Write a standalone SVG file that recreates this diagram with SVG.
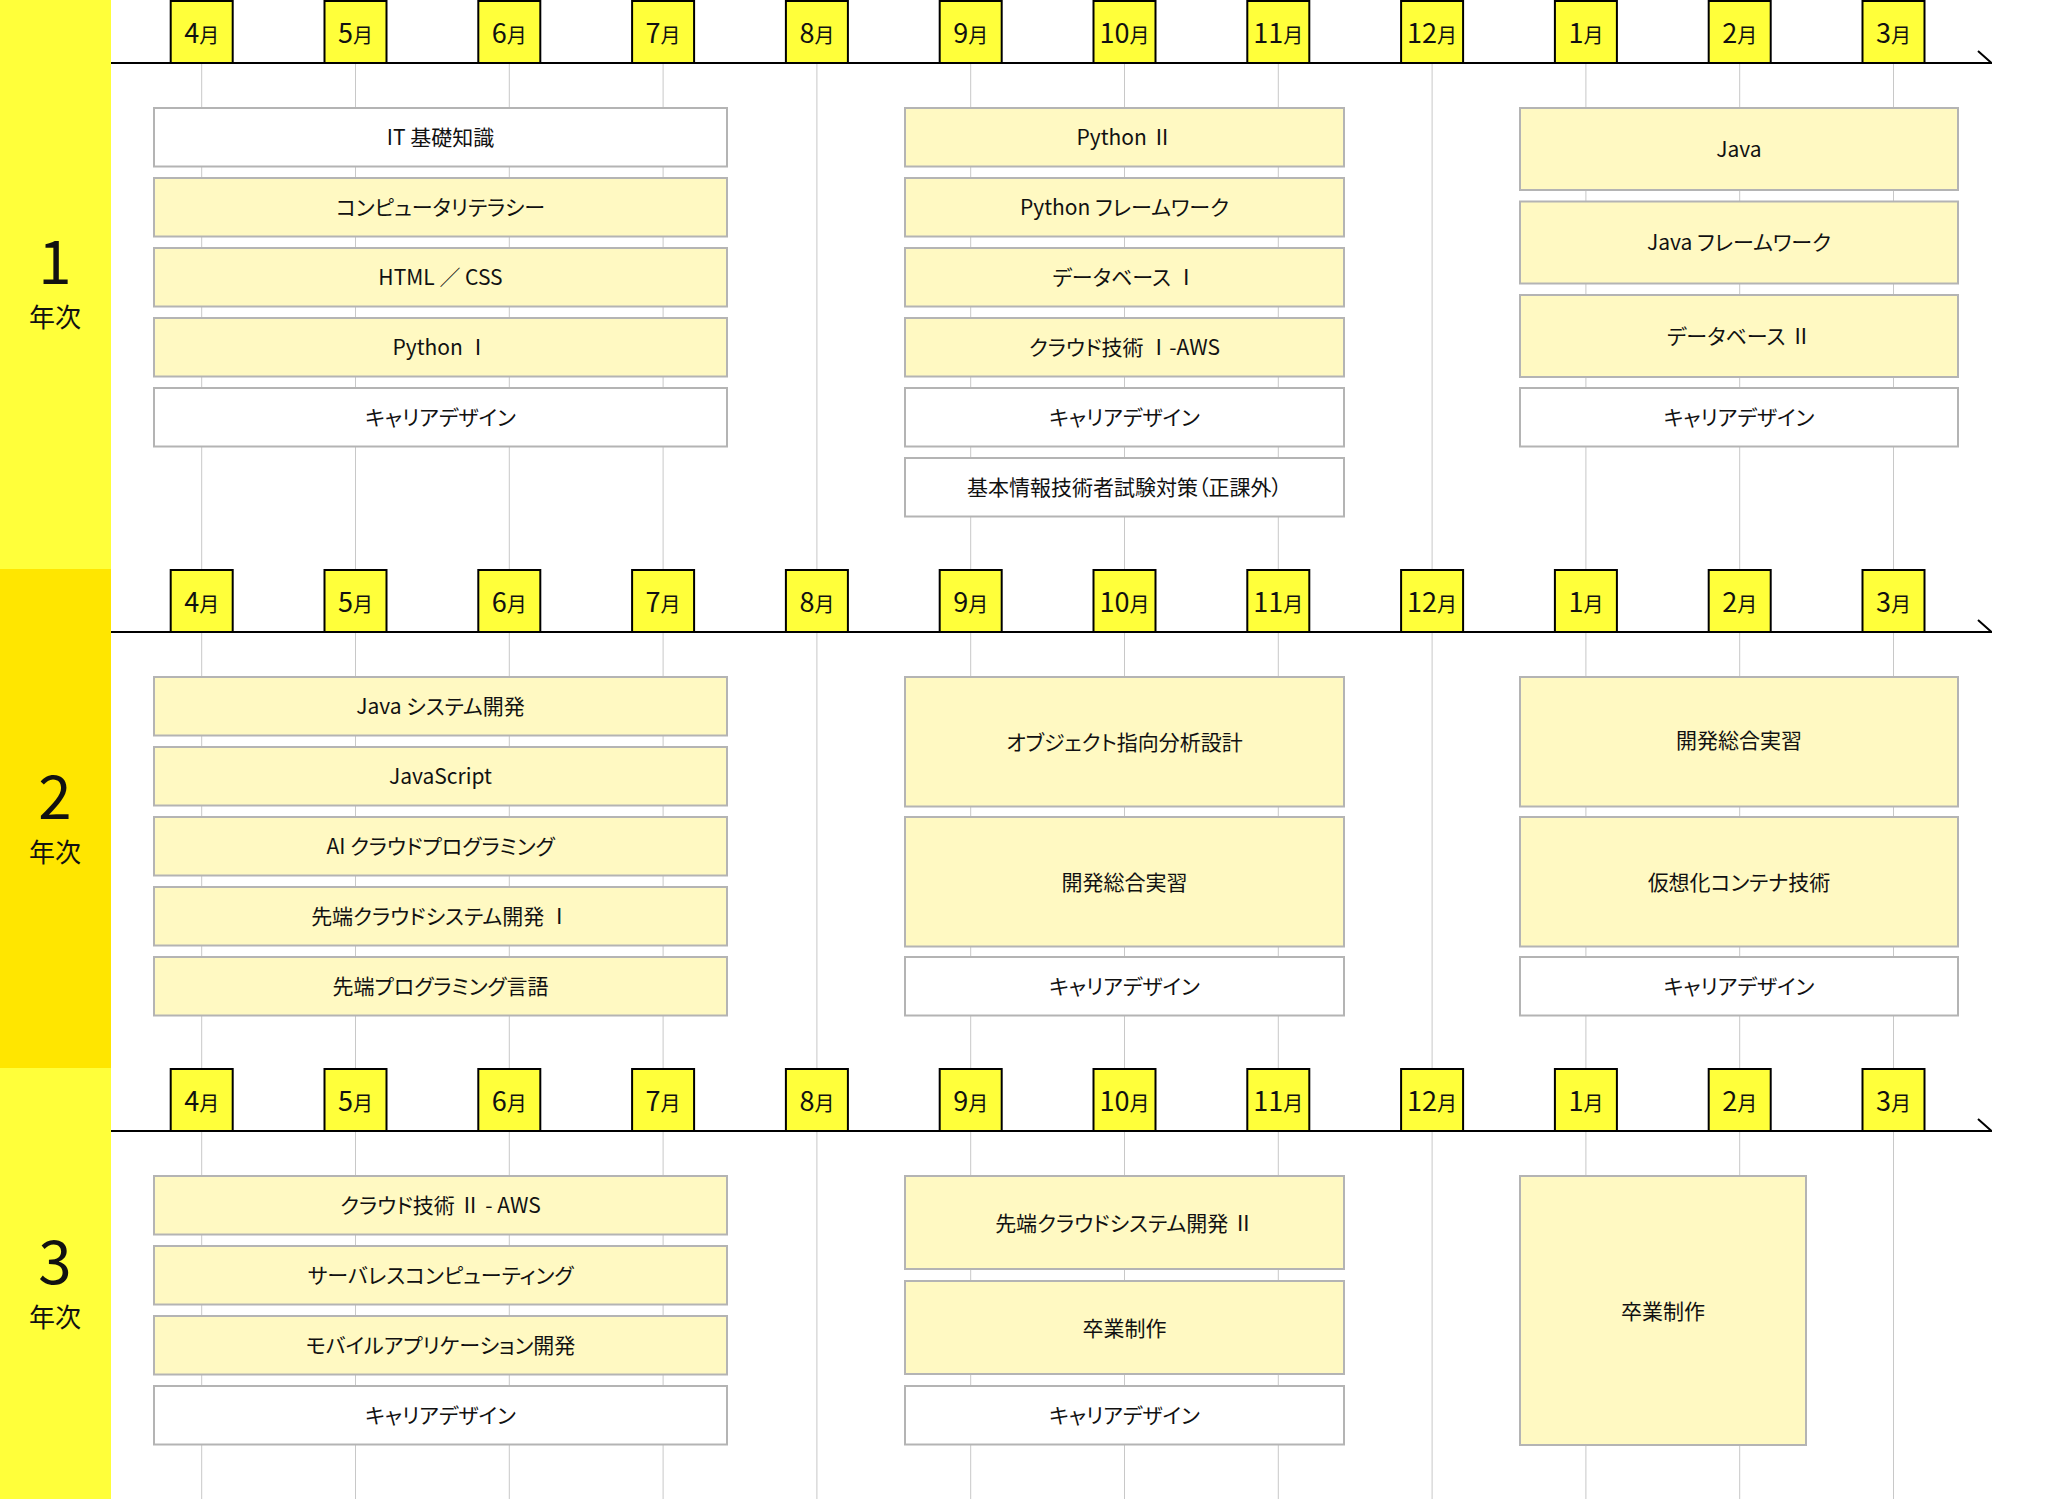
<svg xmlns="http://www.w3.org/2000/svg" width="2072" height="1499" viewBox="0 0 2072 1499">
<style>
  text { font-family: "Noto Sans CJK JP", "Noto Sans", sans-serif; fill: #111; }
  .band1 { fill: #FFFF3A; }
  .band2 { fill: #FFE600; }
  .grid { stroke: #C8C8C8; stroke-width: 1; }
  .axis { stroke: #000; stroke-width: 2; fill: none; }
  .mon rect { fill: #FFFF3A; stroke: #000; stroke-width: 2; }
  .mon text { font-size: 27px; text-anchor: middle; }
  .mon tspan { font-size: 20px; }
  .cy { fill: #FFF9C2; stroke: #B4B4B4; stroke-width: 2; }
  .cw { fill: #FFFFFF; stroke: #B4B4B4; stroke-width: 2; }
  .lbl { font-size: 21px; text-anchor: middle; font-feature-settings: "palt"; }
  .yn { font-size: 60px; text-anchor: middle; }
  .yk { font-size: 26px; text-anchor: middle; }
</style>
<defs>
  <g id="months">
    <g class="mon"><rect x="170.7" y="1" width="62" height="62"/><text x="201.7" y="43">4<tspan>月</tspan></text></g>
    <g class="mon"><rect x="324.5" y="1" width="62" height="62"/><text x="355.5" y="43">5<tspan>月</tspan></text></g>
    <g class="mon"><rect x="478.3" y="1" width="62" height="62"/><text x="509.3" y="43">6<tspan>月</tspan></text></g>
    <g class="mon"><rect x="632.1" y="1" width="62" height="62"/><text x="663.1" y="43">7<tspan>月</tspan></text></g>
    <g class="mon"><rect x="785.9" y="1" width="62" height="62"/><text x="816.9" y="43">8<tspan>月</tspan></text></g>
    <g class="mon"><rect x="939.7" y="1" width="62" height="62"/><text x="970.7" y="43">9<tspan>月</tspan></text></g>
    <g class="mon"><rect x="1093.5" y="1" width="62" height="62"/><text x="1124.5" y="43">10<tspan>月</tspan></text></g>
    <g class="mon"><rect x="1247.3" y="1" width="62" height="62"/><text x="1278.3" y="43">11<tspan>月</tspan></text></g>
    <g class="mon"><rect x="1401.1" y="1" width="62" height="62"/><text x="1432.1" y="43">12<tspan>月</tspan></text></g>
    <g class="mon"><rect x="1554.9" y="1" width="62" height="62"/><text x="1585.9" y="43">1<tspan>月</tspan></text></g>
    <g class="mon"><rect x="1708.7" y="1" width="62" height="62"/><text x="1739.7" y="43">2<tspan>月</tspan></text></g>
    <g class="mon"><rect x="1862.5" y="1" width="62" height="62"/><text x="1893.5" y="43">3<tspan>月</tspan></text></g>
  </g>
  <g id="axisline">
    <path class="axis" d="M111,63 H1992 M1978,51 L1991.5,63"/>
  </g>
</defs>

<!-- year bands -->
<g id="bands">
  <rect class="band1" x="0" y="0" width="111" height="569"/>
  <rect class="band2" x="0" y="569" width="111" height="499"/>
  <rect class="band1" x="0" y="1068" width="111" height="431"/>
</g>

<!-- gridlines and timelines -->
<g id="connectors">
  <g id="grid1">
    <path class="grid" d="M201.7,63V569 M355.5,63V569 M509.3,63V569 M663.1,63V569 M816.9,63V569 M970.7,63V569 M1124.5,63V569 M1278.3,63V569 M1432.1,63V569 M1585.9,63V569 M1739.7,63V569 M1893.5,63V569"/>
  </g>
  <g id="grid2">
    <path class="grid" d="M201.7,632V1068 M355.5,632V1068 M509.3,632V1068 M663.1,632V1068 M816.9,632V1068 M970.7,632V1068 M1124.5,632V1068 M1278.3,632V1068 M1432.1,632V1068 M1585.9,632V1068 M1739.7,632V1068 M1893.5,632V1068"/>
  </g>
  <g id="grid3">
    <path class="grid" d="M201.7,1131V1499 M355.5,1131V1499 M509.3,1131V1499 M663.1,1131V1499 M816.9,1131V1499 M970.7,1131V1499 M1124.5,1131V1499 M1278.3,1131V1499 M1432.1,1131V1499 M1585.9,1131V1499 M1739.7,1131V1499 M1893.5,1131V1499"/>
  </g>
  <use href="#axisline" transform="translate(0,0)"/>
  <use href="#axisline" transform="translate(0,569)"/>
  <use href="#axisline" transform="translate(0,1068)"/>
</g>

<!-- month markers -->
<g id="months-y1"><use href="#months" transform="translate(0,0)"/></g>
<g id="months-y2"><use href="#months" transform="translate(0,569)"/></g>
<g id="months-y3"><use href="#months" transform="translate(0,1068)"/></g>

<!-- year labels -->
<g id="year1-label"><text class="yn" x="55" y="284">1</text><text class="yk" x="55" y="327">年次</text></g>
<g id="year2-label"><text class="yn" x="55" y="819">2</text><text class="yk" x="55" y="862">年次</text></g>
<g id="year3-label"><text class="yn" x="55" y="1284">3</text><text class="yk" x="55" y="1327">年次</text></g>

<!-- Year 1 -->
<g id="y1-it"><rect class="cw" x="154" y="108" width="573" height="58.5"/><text class="lbl" x="440.5" y="145">IT 基礎知識</text></g>
<g id="y1-complit"><rect class="cy" x="154" y="178" width="573" height="58.5"/><text class="lbl" x="440.5" y="215">コンピュータリテラシー</text></g>
<g id="y1-html"><rect class="cy" x="154" y="248" width="573" height="58.5"/><text class="lbl" x="440.5" y="285">HTML ／ CSS</text></g>
<g id="y1-py1"><rect class="cy" x="154" y="318" width="573" height="58.5"/><text class="lbl" x="440.5" y="355">Python Ⅰ</text></g>
<g id="y1-career1"><rect class="cw" x="154" y="388" width="573" height="58.5"/><text class="lbl" x="440.5" y="425">キャリアデザイン</text></g>

<g id="y1-py2"><rect class="cy" x="905" y="108" width="439" height="58.5"/><text class="lbl" x="1124.5" y="145">Python Ⅱ</text></g>
<g id="y1-pyfw"><rect class="cy" x="905" y="178" width="439" height="58.5"/><text class="lbl" x="1124.5" y="215">Python フレームワーク</text></g>
<g id="y1-db1"><rect class="cy" x="905" y="248" width="439" height="58.5"/><text class="lbl" x="1124.5" y="285">データベース Ⅰ</text></g>
<g id="y1-aws1"><rect class="cy" x="905" y="318" width="439" height="58.5"/><text class="lbl" x="1124.5" y="355">クラウド技術 Ⅰ-AWS</text></g>
<g id="y1-career2"><rect class="cw" x="905" y="388" width="439" height="58.5"/><text class="lbl" x="1124.5" y="425">キャリアデザイン</text></g>
<g id="y1-fe"><rect class="cw" x="905" y="458" width="439" height="58.5"/><text class="lbl" x="1124.5" y="495">基本情報技術者試験対策（正課外）</text></g>

<g id="y1-java"><rect class="cy" x="1520" y="108" width="438" height="82"/><text class="lbl" x="1739" y="157">Java</text></g>
<g id="y1-javafw"><rect class="cy" x="1520" y="201.5" width="438" height="82"/><text class="lbl" x="1739" y="250">Java フレームワーク</text></g>
<g id="y1-db2"><rect class="cy" x="1520" y="295" width="438" height="82"/><text class="lbl" x="1739" y="344">データベース Ⅱ</text></g>
<g id="y1-career3"><rect class="cw" x="1520" y="388" width="438" height="58.5"/><text class="lbl" x="1739" y="425">キャリアデザイン</text></g>

<!-- Year 2 -->
<g id="y2-javasys"><rect class="cy" x="154" y="677" width="573" height="58.5"/><text class="lbl" x="440.5" y="714">Java システム開発</text></g>
<g id="y2-js"><rect class="cy" x="154" y="747" width="573" height="58.5"/><text class="lbl" x="440.5" y="784">JavaScript</text></g>
<g id="y2-ai"><rect class="cy" x="154" y="817" width="573" height="58.5"/><text class="lbl" x="440.5" y="854">AI クラウドプログラミング</text></g>
<g id="y2-adv1"><rect class="cy" x="154" y="887" width="573" height="58.5"/><text class="lbl" x="440.5" y="924">先端クラウドシステム開発 Ⅰ</text></g>
<g id="y2-advlang"><rect class="cy" x="154" y="957" width="573" height="58.5"/><text class="lbl" x="440.5" y="994">先端プログラミング言語</text></g>

<g id="y2-ooad"><rect class="cy" x="905" y="677" width="439" height="129.5"/><text class="lbl" x="1124.5" y="750">オブジェクト指向分析設計</text></g>
<g id="y2-dev1"><rect class="cy" x="905" y="817" width="439" height="129.5"/><text class="lbl" x="1124.5" y="890">開発総合実習</text></g>
<g id="y2-career2"><rect class="cw" x="905" y="957" width="439" height="58.5"/><text class="lbl" x="1124.5" y="994">キャリアデザイン</text></g>

<g id="y2-dev2"><rect class="cy" x="1520" y="677" width="438" height="129.5"/><text class="lbl" x="1739" y="748">開発総合実習</text></g>
<g id="y2-container"><rect class="cy" x="1520" y="817" width="438" height="129.5"/><text class="lbl" x="1739" y="890">仮想化コンテナ技術</text></g>
<g id="y2-career3"><rect class="cw" x="1520" y="957" width="438" height="58.5"/><text class="lbl" x="1739" y="994">キャリアデザイン</text></g>

<!-- Year 3 -->
<g id="y3-aws2"><rect class="cy" x="154" y="1176" width="573" height="58.5"/><text class="lbl" x="440.5" y="1213">クラウド技術 Ⅱ - AWS</text></g>
<g id="y3-serverless"><rect class="cy" x="154" y="1246" width="573" height="58.5"/><text class="lbl" x="440.5" y="1283">サーバレスコンピューティング</text></g>
<g id="y3-mobile"><rect class="cy" x="154" y="1316" width="573" height="58.5"/><text class="lbl" x="440.5" y="1353">モバイルアプリケーション開発</text></g>
<g id="y3-career1"><rect class="cw" x="154" y="1386" width="573" height="58.5"/><text class="lbl" x="440.5" y="1423">キャリアデザイン</text></g>

<g id="y3-adv2"><rect class="cy" x="905" y="1176" width="439" height="93"/><text class="lbl" x="1124.5" y="1231">先端クラウドシステム開発 Ⅱ</text></g>
<g id="y3-grad1"><rect class="cy" x="905" y="1281" width="439" height="93"/><text class="lbl" x="1124.5" y="1336">卒業制作</text></g>
<g id="y3-career2"><rect class="cw" x="905" y="1386" width="439" height="58.5"/><text class="lbl" x="1124.5" y="1423">キャリアデザイン</text></g>

<g id="y3-grad2"><rect class="cy" x="1520" y="1176" width="286" height="269"/><text class="lbl" x="1663" y="1319">卒業制作</text></g>
</svg>
